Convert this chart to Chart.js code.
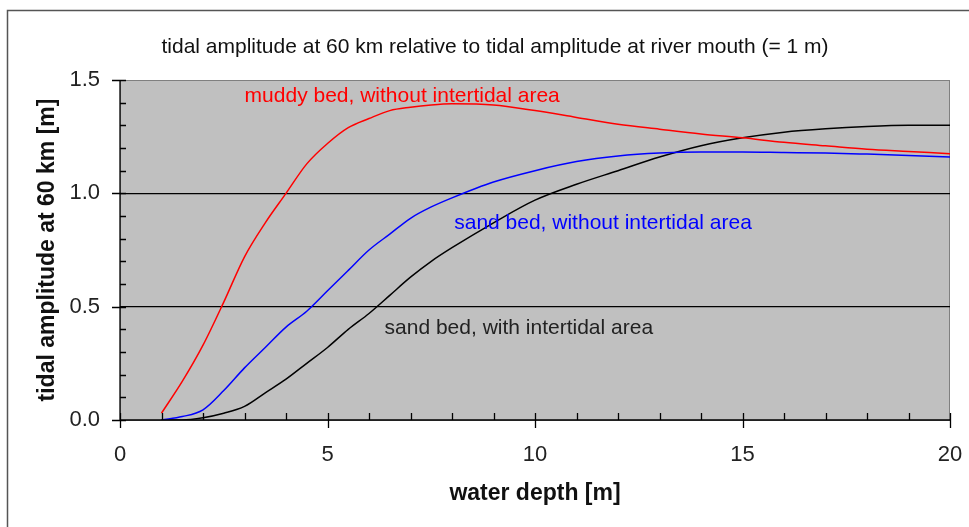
<!DOCTYPE html>
<html>
<head>
<meta charset="utf-8">
<script src="https://cdn.jsdelivr.net/npm/chart.js@4"></script>
<style>
  body { margin: 0; background: #fff; }
  canvas { display: block; }
</style>
</head>
<body>
<canvas id="chart-tide" width="969" height="527"></canvas>
<script>
// water depth [m]
var depth = [1, 1.5, 2, 2.5, 3, 3.5, 4, 4.5, 5, 5.5, 6, 6.5, 7, 7.5, 8, 9, 10, 11, 12, 13, 14, 15, 16, 17, 18, 19, 20];

// tidal amplitude at 60 km [m]
var muddyNoFlats = [0.03, 0.17, 0.33, 0.52, 0.72, 0.87, 1.0, 1.13, 1.22, 1.29, 1.33, 1.365, 1.38, 1.39, 1.395, 1.39, 1.365, 1.335, 1.305, 1.283, 1.262, 1.245, 1.225, 1.21, 1.195, 1.185, 1.175];
var sandNoFlats = [0.0, 0.015, 0.045, 0.13, 0.23, 0.32, 0.41, 0.48, 0.57, 0.66, 0.75, 0.82, 0.89, 0.94, 0.98, 1.05, 1.1, 1.14, 1.165, 1.178, 1.182, 1.182, 1.18, 1.178, 1.173, 1.167, 1.16];
var sandWithFlats = [0.0, 0.0, 0.01, 0.03, 0.06, 0.12, 0.18, 0.25, 0.32, 0.4, 0.47, 0.55, 0.63, 0.7, 0.76, 0.87, 0.97, 1.04, 1.1, 1.16, 1.21, 1.245, 1.27, 1.285, 1.295, 1.3, 1.3];

var seriesNames = ["muddy bed, without intertidal area", "sand bed, without intertidal area", "sand bed, with intertidal area"];
var seriesColors = ["#ff0000", "#0000ff", "#000000"];
// where the curve labels sit, in data units
var labelX = [6.8, 11.64, 9.61];
var labelY = [1.428, 0.868, 0.405];

var xTicks = [0, 5, 10, 15, 20];
var yTicks = [0.0, 0.5, 1.0, 1.5];

var chartTitle = "tidal amplitude at 60 km relative to tidal amplitude at river mouth (= 1 m)";

var font = "'Liberation Sans', Arial, sans-serif";

function pts(ys) {
  return depth.map(function (x, i) { return { x: x, y: ys[i] }; });
}

var excelLook = {
  id: 'excelLook',
  beforeDraw: function (chart) {
    var c = chart.ctx, a = chart.chartArea;
    c.save();
    c.fillStyle = '#c0c0c0';
    c.fillRect(a.left, a.top, a.right - a.left, a.bottom - a.top);
    c.strokeStyle = '#808080';
    c.lineWidth = 1;
    c.strokeRect(a.left + 0.5, a.top + 0.5, a.right - a.left - 1, a.bottom - a.top);
    c.restore();
  },
  afterDraw: function (chart) {
    var c = chart.ctx, a = chart.chartArea;
    var xs = chart.scales.x, ys = chart.scales.y;
    c.save();
    c.strokeStyle = '#000';
    c.lineWidth = 1.3;
    c.beginPath();
    // axes
    c.moveTo(a.left, a.top); c.lineTo(a.left, a.bottom);
    c.moveTo(a.left, a.bottom); c.lineTo(a.right, a.bottom);
    // x ticks: minor every 1, major every 5
    for (var i = 0; i <= 20; i++) {
      var px = Math.round(xs.getPixelForValue(i)) + 0.5;
      c.moveTo(px, a.bottom - 7);
      c.lineTo(px, a.bottom + (i % 5 === 0 ? 8 : 0));
    }
    // y ticks: minor every 0.1, major every 0.5
    for (var j = 0; j <= 15; j++) {
      var py = Math.round(ys.getPixelForValue(j / 10)) + 0.5;
      c.moveTo(a.left - (j % 5 === 0 ? 8 : 0), py);
      c.lineTo(a.left + 6, py);
    }
    c.stroke();

    // curve labels
    c.font = '21px ' + font;
    c.textAlign = 'center';
    c.textBaseline = 'middle';
    seriesNames.forEach(function (name, k) {
      c.fillStyle = k === 2 ? '#222' : seriesColors[k];
      c.fillText(name, xs.getPixelForValue(labelX[k]), ys.getPixelForValue(labelY[k]));
    });

    // chart title
    c.fillStyle = '#111';
    c.fillText(chartTitle, 495, 47);

    // outer frame
    c.strokeStyle = '#555';
    c.lineWidth = 1.5;
    c.beginPath();
    c.moveTo(7.5, 527); c.lineTo(7.5, 10.5); c.lineTo(969, 10.5);
    c.stroke();
    c.restore();
  }
};

var ctx = document.getElementById("chart-tide").getContext("2d");
new Chart(ctx, {
  type: "line",
  data: {
    datasets: [0, 1, 2].map(function (k) {
      return {
        label: seriesNames[k],
        data: pts([muddyNoFlats, sandNoFlats, sandWithFlats][k]),
        borderColor: seriesColors[k],
        borderWidth: 1.5,
        pointRadius: 0,
        fill: false,
        cubicInterpolationMode: 'monotone'
      };
    })
  },
  options: {
    responsive: false,
    animation: false,
    layout: { padding: { left: 0, right: 19, top: 80, bottom: 0 } },
    plugins: {
      legend: { display: false },
      tooltip: { enabled: false }
    },
    scales: {
      x: {
        type: 'linear',
        min: 0,
        max: 20,
        afterFit: function (s) { s.height = 107; s.paddingLeft = 0; s.paddingRight = 0; },
        afterBuildTicks: function (s) { s.ticks = xTicks.map(function (v) { return { value: v }; }); },
        grid: { display: false, drawTicks: false },
        border: { display: false },
        ticks: {
          padding: 22,
          color: '#222',
          font: { family: font, size: 22 },
          callback: function (v) { return String(v); }
        },
        title: {
          display: true,
          text: 'water depth [m]',
          color: '#111',
          font: { family: font, size: 23, weight: 'bold' },
          padding: { top: 0, bottom: 20 }
        }
      },
      y: {
        min: 0,
        max: 1.5,
        afterFit: function (s) { s.width = 120; s.paddingTop = 0; s.paddingBottom = 0; },
        afterBuildTicks: function (s) { s.ticks = yTicks.map(function (v) { return { value: v }; }); },
        grid: {
          drawTicks: false,
          lineWidth: 1.3,
          color: function (c) {
            var v = c.tick ? c.tick.value : 0;
            return (v === 0.5 || v === 1) ? '#000' : 'rgba(0,0,0,0)';
          }
        },
        border: { display: false },
        ticks: {
          padding: 20,
          color: '#222',
          font: { family: font, size: 22 },
          callback: function (v) { return Number(v).toFixed(1); }
        },
        title: {
          display: true,
          text: 'tidal amplitude at 60 km [m]',
          color: '#111',
          font: { family: font, size: 23, weight: 'bold' },
          padding: { top: 34, bottom: 0 }
        }
      }
    }
  },
  plugins: [excelLook]
});
</script>
</body>
</html>
